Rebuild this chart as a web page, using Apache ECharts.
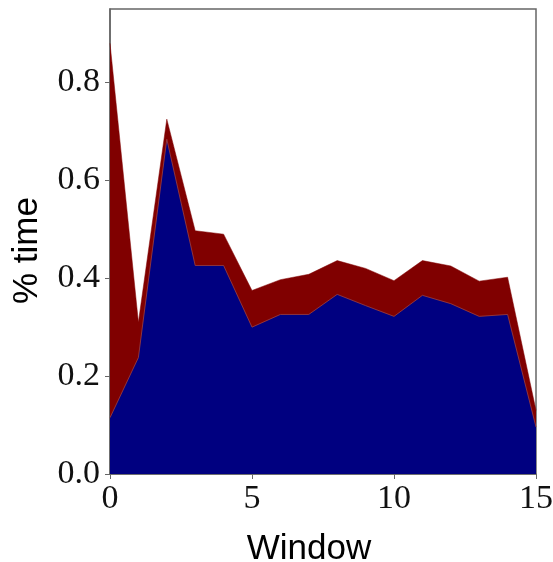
<!DOCTYPE html>
<html>
<head>
<meta charset="utf-8">
<script src="https://cdn.jsdelivr.net/npm/echarts@6/dist/echarts.min.js"></script>
<style>
  html, body { margin: 0; padding: 0; background: #fff; }
  #chart { width: 553px; height: 562px; }
</style>
</head>
<body>
<div id="chart"></div>
<script>
// windows on the x axis
const windows = [0, 1, 2, 3, 4, 5, 6, 7, 8, 9, 10, 11, 12, 13, 14, 15];
// top edge of the maroon band (total)
const upperVals = [0.88, 0.31, 0.725, 0.497, 0.49, 0.375, 0.397, 0.408, 0.436, 0.42, 0.395, 0.436, 0.425, 0.394, 0.402, 0.13];
// top edge of the navy area
const lowerVals = [0.115, 0.238, 0.684, 0.426, 0.426, 0.30, 0.326, 0.326, 0.367, 0.344, 0.322, 0.365, 0.348, 0.322, 0.326, 0.096];
const yTicks = [0, 0.2, 0.4, 0.6, 0.8];
const xTicks = [0, 5, 10, 15];

const serif = '"Liberation Serif", "DejaVu Serif", serif';
const sans = '"Liberation Sans", Arial, sans-serif';

const chart = echarts.init(document.getElementById('chart'));

chart.setOption({
  animation: false,
  grid: {
    left: 110, right: 17, top: 9, bottom: 88,
    containLabel: false, outerBoundsMode: 'none',
    show: true, borderColor: '#666', borderWidth: 1.5, backgroundColor: '#fff'
  },
  xAxis: {
    type: 'value', min: 0, max: 15, interval: 5,
    name: 'Window', nameLocation: 'middle', nameGap: 58,
    nameTextStyle: { fontFamily: sans, fontSize: 35, color: '#000', padding: [0, 28, 0, 0] },
    axisLine: { show: true, lineStyle: { color: '#666', width: 1.5 } },
    axisTick: { show: true, length: 5, lineStyle: { color: '#666' }, customValues: xTicks },
    axisLabel: { fontFamily: serif, fontSize: 34, color: '#111', margin: 8, customValues: xTicks },
    splitLine: { show: false }
  },
  yAxis: {
    type: 'value', min: 0, max: 0.95,
    name: '% time', nameLocation: 'middle', nameGap: 65, nameRotate: 90,
    nameTextStyle: { fontFamily: sans, fontSize: 35, color: '#000', padding: [0, 18, 0, 0] },
    axisLine: { show: true, lineStyle: { color: '#666', width: 1.5 } },
    axisTick: { show: true, length: 5, lineStyle: { color: '#666' }, customValues: yTicks },
    axisLabel: {
      fontFamily: serif, fontSize: 34, color: '#111', margin: 10,
      customValues: yTicks,
      formatter: v => v.toFixed(1)
    },
    splitLine: { show: false }
  },
  series: [
    {
      name: 'total',
      type: 'line',
      data: windows.map((w, i) => [w, upperVals[i]]),
      symbol: 'none',
      lineStyle: { color: '#800000', width: 0.5 },
      areaStyle: { color: '#800000', opacity: 1 },
      z: 2
    },
    {
      name: 'lower',
      type: 'line',
      data: windows.map((w, i) => [w, lowerVals[i]]),
      symbol: 'none',
      lineStyle: { color: '#a04040', width: 0.8 },
      areaStyle: { color: '#000080', opacity: 1 },
      z: 3
    }
  ]
});
</script>
</body>
</html>
